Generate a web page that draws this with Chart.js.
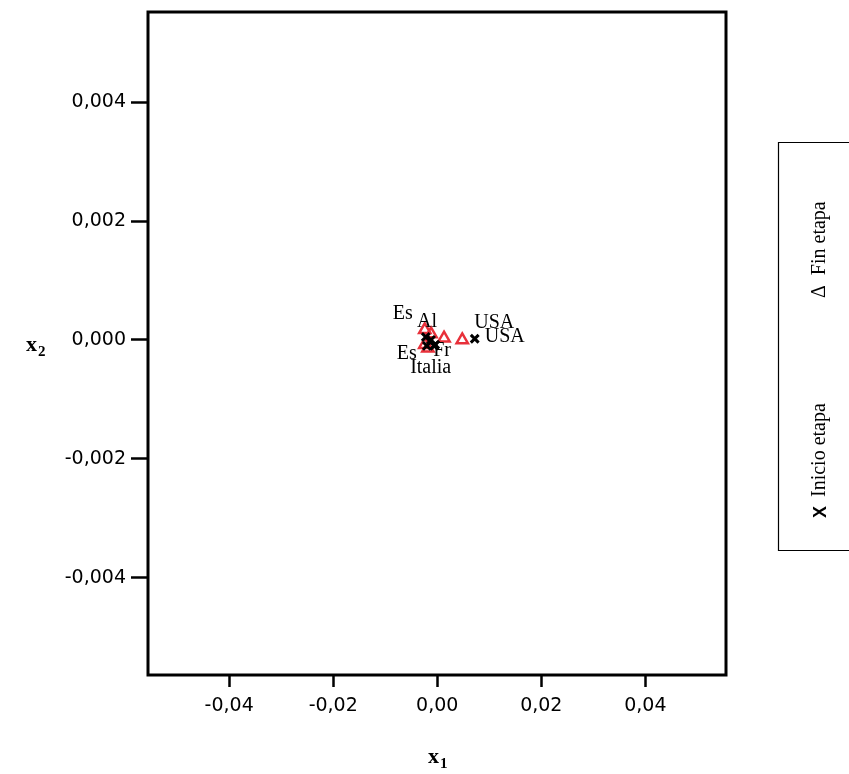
<!DOCTYPE html>
<html>
<head>
<meta charset="utf-8">
<script src="https://cdn.jsdelivr.net/npm/chart.js@4/dist/chart.umd.min.js"></script>
<style>
  body { margin: 0; background: #fff; }
  #wrap { width: 849px; height: 774px; }
</style>
</head>
<body>
<div id="wrap"><canvas id="canvas"></canvas></div>
<script>
// paises, etapa inicial (x) y final (triangulo)
var countries = ['Es', 'Al', 'Fr', 'Italia', 'Es', 'USA'];
var start_x = [-0.0022, -0.0012, -0.0004, -0.0006, -0.0020, 0.0072];
var start_y = [0.00005, 0.00000, -0.00008, -0.00010, -0.00010, 0.00002];
var end_x = [-0.0024, -0.0012, 0.0013, -0.0024, -0.0018, 0.0048];
var end_y = [0.00017, 0.00010, 0.00003, -0.00008, -0.00014, 0.00000];

var x_ticks = [-0.04, -0.02, 0.00, 0.02, 0.04];
var y_ticks = [-0.004, -0.002, 0.000, 0.002, 0.004];

var start_pts = [];
var end_pts = [];
for (var i = 0; i < countries.length; i++) {
  start_pts.push({x: start_x[i], y: start_y[i]});
  end_pts.push({x: end_x[i], y: end_y[i]});
}

var serif = '"Liberation Serif", "Times New Roman", serif';
var sans = '"DejaVu Sans", Arial, sans-serif';

// etiquetas visibles en la figura (indice, serie, desplazamiento)
var label_list = [
  {i: 0, s: 1, dx: -32, dy: -16, t: 'Es'},
  {i: 1, s: 1, dx: -14, dy: -12, t: 'Al'},
  {i: 4, s: 0, dx: -30, dy: 8, t: 'Es'},
  {i: 2, s: 0, dx: -2, dy: 6, t: 'Fr'},
  {i: 3, s: 0, dx: -24, dy: 22, t: 'Italia'},
  {i: 5, s: 1, dx: 12, dy: -17, t: 'USA'},
  {i: 5, s: 0, dx: 10, dy: -2, t: 'USA'}
];

var extras = {
  id: 'extras',
  beforeDatasetsDraw: function(chart) {
    var ctx = chart.ctx;
    var a = chart.chartArea;
    ctx.save();
    ctx.strokeStyle = '#000';
    ctx.lineWidth = 3;
    ctx.strokeRect(a.left, a.top, a.right - a.left, a.bottom - a.top);
    ctx.restore();
  },
  afterDatasetsDraw: function(chart) {
    var ctx = chart.ctx;
    var xs = chart.scales.x, ys = chart.scales.y;
    ctx.save();
    ctx.fillStyle = '#000';
    ctx.font = '20px ' + serif;
    ctx.textBaseline = 'middle';
    ctx.textAlign = 'left';
    label_list.forEach(function(l) {
      var p = l.s == 0 ? start_pts[l.i] : end_pts[l.i];
      ctx.fillText(l.t, xs.getPixelForValue(p.x) + l.dx, ys.getPixelForValue(p.y) + l.dy);
    });

    // titulos de ejes
    ctx.font = 'bold 22px ' + serif;
    ctx.textAlign = 'left';
    ctx.fillText('x', 26, 345);
    ctx.fillText('x', 428, 757);
    ctx.font = 'bold 15px ' + serif;
    ctx.fillText('2', 38, 352);
    ctx.fillText('1', 440, 764);

    // leyenda
    ctx.strokeStyle = '#000';
    ctx.lineWidth = 1.2;
    ctx.beginPath();
    ctx.moveTo(852, 142.5);
    ctx.lineTo(778.5, 142.5);
    ctx.lineTo(778.5, 550.5);
    ctx.lineTo(852, 550.5);
    ctx.stroke();

    ctx.translate(820, 0);
    ctx.rotate(-Math.PI / 2);
    ctx.textBaseline = 'middle';
    ctx.font = '20px ' + serif;
    ctx.textAlign = 'left';
    ctx.fillText('Inicio etapa', -497, 0);
    ctx.fillText('\u0394  Fin etapa', -298, 0);
    ctx.font = 'bold 18px "Liberation Sans", Arial, sans-serif';
    ctx.fillText('X', -518, 1);
    ctx.restore();
  }
};

new Chart(document.getElementById('canvas'), {
  type: 'scatter',
  data: {
    datasets: [{
      label: 'Inicio etapa',
      data: start_pts,
      pointStyle: 'crossRot',
      pointRadius: 5.5,
      pointBorderWidth: 3,
      borderColor: '#000',
      backgroundColor: '#000'
    }, {
      label: 'Fin etapa',
      data: end_pts,
      pointStyle: 'triangle',
      pointRadius: 6.5,
      pointBorderWidth: 2.5,
      borderColor: '#e8303a',
      backgroundColor: 'rgba(0,0,0,0)'
    }]
  },
  options: {
    responsive: true,
    maintainAspectRatio: false,
    animation: false,
    layout: { padding: { top: 12, right: 123, left: 0, bottom: 0 } },
    plugins: { legend: { display: false }, tooltip: { enabled: false } },
    scales: {
      x: {
        type: 'linear',
        min: -0.0556,
        max: 0.0555,
        afterBuildTicks: function(s) { s.ticks = x_ticks.map(function(v) { return {value: v}; }); },
        afterFit: function(s) { s.height = 99; s.paddingLeft = 0; s.paddingRight = 0; },
        border: { display: false },
        grid: { drawOnChartArea: false, tickLength: 12, tickWidth: 2.5, color: '#000' },
        ticks: {
          color: '#000',
          padding: 8,
          font: { family: sans, size: 19 },
          callback: function(v) { return v.toFixed(2).replace('.', ',').replace('-0,00', '0,00'); }
        }
      },
      y: {
        type: 'linear',
        min: -0.00564,
        max: 0.00552,
        afterBuildTicks: function(s) { s.ticks = y_ticks.map(function(v) { return {value: v}; }); },
        afterFit: function(s) { s.width = 148; s.paddingTop = 0; s.paddingBottom = 0; },
        border: { display: false },
        grid: { drawOnChartArea: false, tickLength: 17, tickWidth: 2.5, color: '#000' },
        ticks: {
          color: '#000',
          padding: 5,
          font: { family: sans, size: 19 },
          callback: function(v) { return v.toFixed(3).replace('.', ',').replace('-0,000', '0,000'); }
        }
      }
    }
  },
  plugins: [extras]
});
</script>
</body>
</html>
